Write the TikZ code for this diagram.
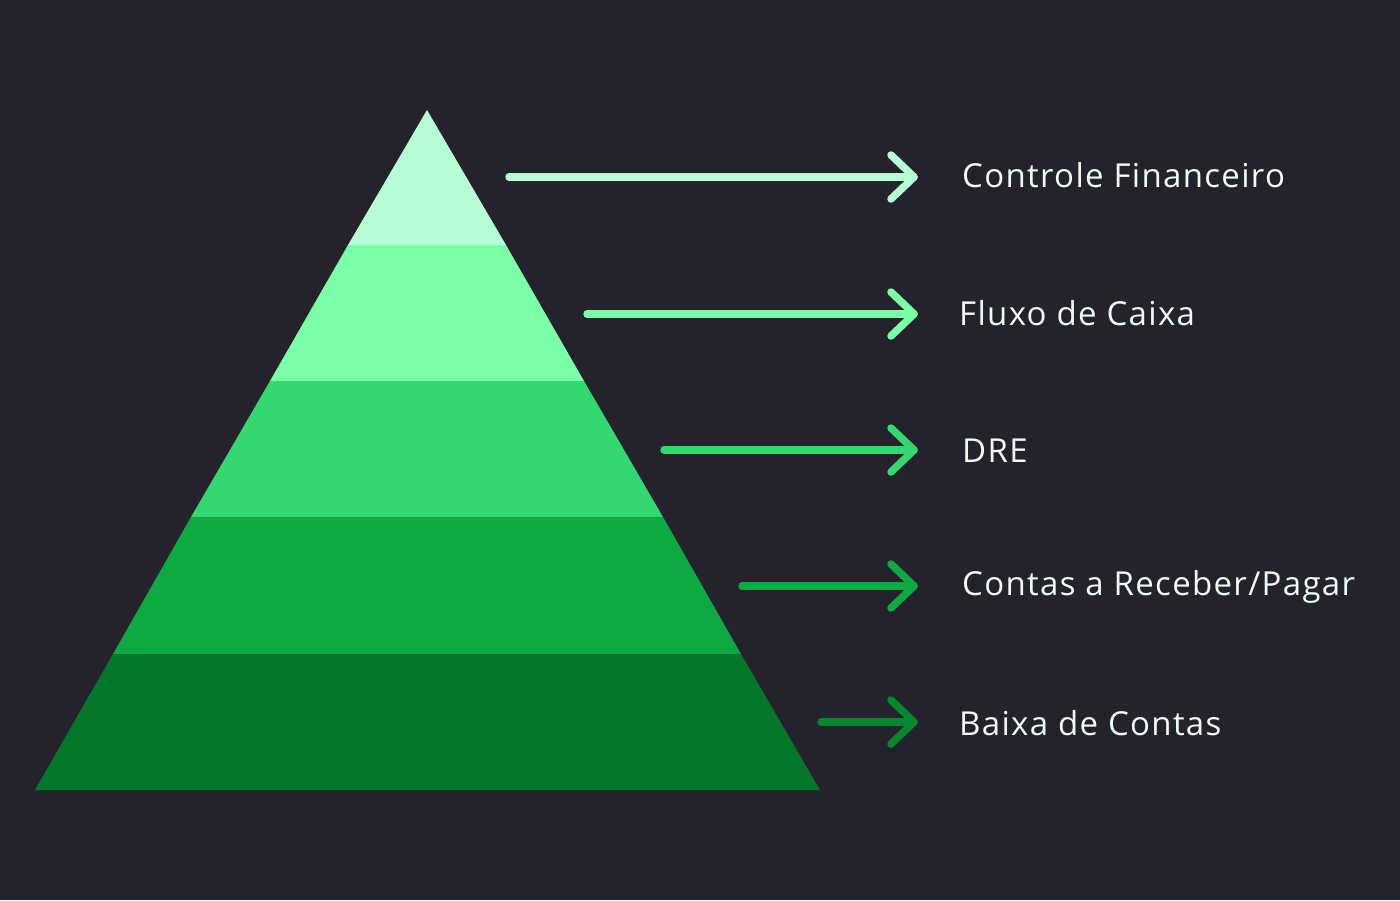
\documentclass[tikz,border=0pt]{standalone}
\usepackage{fontspec}
\setmainfont[LetterSpace=4]{Open Sans}
\usetikzlibrary{calc}
\definecolor{bg}{HTML}{24232C}
\definecolor{cA}{HTML}{B6FCD5}
\definecolor{cB}{HTML}{7BFFA8}
\definecolor{cC}{HTML}{33D871}
\definecolor{cD}{HTML}{0EA943}
\definecolor{cE}{HTML}{04772B}
\definecolor{cEa}{HTML}{06872F}
\definecolor{txt}{HTML}{EEFCF3}
\begin{document}
\begin{tikzpicture}[x=1pt,y=-1pt,
  arr/.style={line width=7.5pt,line cap=round,line join=round},
  lbl/.style={anchor=west,text=txt,font=\fontsize{33}{38}\selectfont,inner sep=0pt}]
\fill[bg] (0,0) rectangle (1400,900);
\useasboundingbox (0,0) rectangle (1400,900);
% pyramid layers
\fill[cA] (427,110) -- (506,245) -- (348,245) -- cycle;
\fill[cB] (348,245) -- (506,245) -- (584,381) -- (270,381) -- cycle;
\fill[cC] (270,381) -- (584,381) -- (663,517) -- (191,517) -- cycle;
\fill[cD] (191,517) -- (663,517) -- (741,654) -- (113,654) -- cycle;
\fill[cE] (113,654) -- (741,654) -- (820,790) -- (35,790) -- cycle;
% labels
\node[lbl] (t1) at (962,175) {Controle Financeiro};
\node[lbl] (t2) at (959,313) {Fluxo de Caixa};
\node[lbl] (t3) at (962,451) {DRE};
\node[lbl] (t4) at (962,587) {Contas a Receber/Pagar};
\node[lbl] (t5) at (959,723) {Baixa de Contas};
% arrows
\foreach \i/\sx/\y/\c in {1/509/177/cA,2/587/314/cB,3/664/450/cC,4/742/586/cD,5/821/722/cEa}{
  \coordinate (s\i) at (\sx,\y);
  \coordinate (e\i) at (914,\y);
  \draw[arr,draw=\c] (s\i) -- (e\i);
  \draw[arr,draw=\c] ($(e\i)+(-23,-22)$) -- (e\i) -- ($(e\i)+(-23,22)$);
}
\end{tikzpicture}
\end{document}
